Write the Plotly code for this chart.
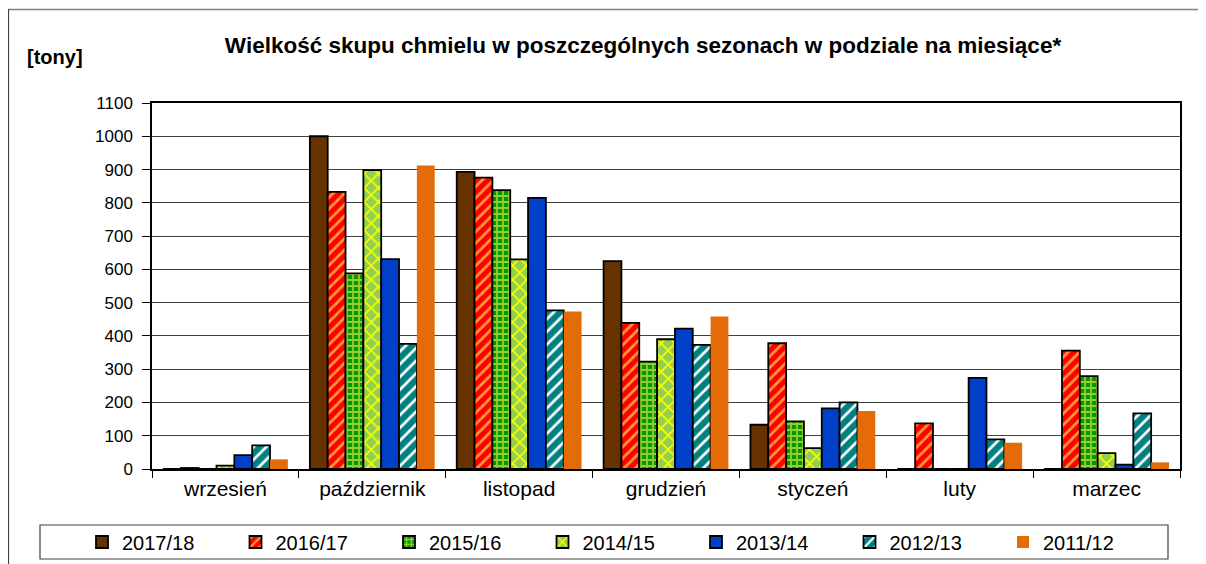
import plotly.graph_objects as go

months = ["wrzesień", "październik", "listopad", "grudzień", "styczeń", "luty", "marzec"]

s2017_18 = [0, 1000, 893, 625, 133, 0, 0]
s2016_17 = [3, 833, 876, 439, 378, 137, 356]
s2015_16 = [0, 588, 838, 323, 143, 0, 279]
s2014_15 = [10, 898, 630, 390, 63, 0, 48]
s2013_14 = [42, 631, 815, 422, 182, 274, 13]
s2012_13 = [71, 376, 477, 373, 200, 89, 167]
s2011_12 = [29, 912, 473, 458, 174, 79, 20]

seasons = ["2017/18", "2016/17", "2015/16", "2014/15", "2013/14", "2012/13", "2011/12"]
values = [s2017_18, s2016_17, s2015_16, s2014_15, s2013_14, s2012_13, s2011_12]

styles = [
    dict(color="#663300", pattern=None, line=1.8),
    dict(color="#FF0000", pattern=dict(shape="/", fgcolor="#FF9933", bgcolor="#FF0000", size=8, solidity=0.35), line=1.8),
    dict(color="#009900", pattern=dict(shape="+", fgcolor="#99CC33", bgcolor="#009900", size=6, solidity=0.5), line=1.8),
    dict(color="#92D050", pattern=dict(shape="x", fgcolor="#FFFF00", bgcolor="#92D050", size=10, solidity=0.3), line=1.8),
    dict(color="#0040C8", pattern=None, line=1.8),
    dict(color="#008080", pattern=dict(shape="/", fgcolor="#FFFFFF", bgcolor="#008080", size=9, solidity=0.3), line=1.8),
    dict(color="#E36C09", pattern=None, line=0),
]

fig = go.Figure()
for name, vals, st in zip(seasons, values, styles):
    marker = dict(color=st["color"], line=dict(color="#000000", width=st["line"]))
    if st["pattern"]:
        marker["pattern"] = dict(fillmode="replace", **st["pattern"])
    fig.add_trace(go.Bar(name=name, x=months, y=vals, marker=marker))

# page is offset by the browser's 8px body margin
OFF = 8
W, H = 1206 - OFF, 564 - OFF
PL, PR, PT, PB = 152, 1180, 103, 469  # plot area in page pixels
L, T = PL - OFF, PT - OFF
R = W - (PR - OFF)
B = H - (PB - OFF)
pw, ph = PR - PL, PB - PT


def px(x):
    return (x - PL) / pw


def py(y):
    return (PB - y) / ph


shapes = [
    # outer frame (top & left)
    dict(type="line", xref="paper", yref="paper", x0=px(8), x1=px(1206), y0=py(9.5), y1=py(9.5),
         line=dict(color="#808080", width=1.5)),
    dict(type="line", xref="paper", yref="paper", x0=px(8.5), x1=px(8.5), y0=py(9), y1=py(564),
         line=dict(color="#404040", width=1.2)),
    # legend box
    dict(type="rect", xref="paper", yref="paper", x0=px(40), x1=px(1168), y0=py(559), y1=py(525),
         line=dict(color="#404040", width=1.2), fillcolor="white", layer="below"),
]

fig.update_layout(
    width=W, height=H,
    margin=dict(l=L, r=R, t=T, b=B, autoexpand=False),
    paper_bgcolor="white", plot_bgcolor="white",
    font=dict(family="Liberation Sans, Arial, sans-serif", color="#000000"),
    barmode="group", bargap=0.15, bargroupgap=0,
    title=dict(text="<b>Wielkość skupu chmielu w poszczególnych sezonach w podziale na miesiące*</b>",
               x=px(643), xanchor="center", xref="paper", y=1 - (45 - OFF) / H, yanchor="middle",
               font=dict(size=22.5)),
    annotations=[dict(text="<b>[tony]</b>", xref="paper", yref="paper", x=px(25), xanchor="left",
                      y=py(57), yanchor="middle", showarrow=False, font=dict(size=20))],
    shapes=shapes,
    showlegend=True,
    legend=dict(orientation="h", x=px(82), xanchor="left", y=py(542), yanchor="middle",
                font=dict(size=20), bgcolor="rgba(0,0,0,0)", borderwidth=0,
                entrywidth=108.5, entrywidthmode="pixels", itemwidth=30, traceorder="normal"),
    xaxis=dict(showline=True, linecolor="#000000", linewidth=1.5, mirror=True,
               ticks="outside", tickson="boundaries", ticklen=7, tickcolor="#000000",
               tickfont=dict(size=21), showgrid=False),
    yaxis=dict(range=[0, 1100], dtick=100, showline=True, linecolor="#000000", linewidth=1.5,
               mirror=True, ticks="outside", ticklen=8, tickcolor="#000000",
               ticklabelstandoff=6,
               tickfont=dict(size=17), showgrid=True, gridcolor="#404040", gridwidth=1,
               zeroline=False),
)

fig.write_html("out.html")
